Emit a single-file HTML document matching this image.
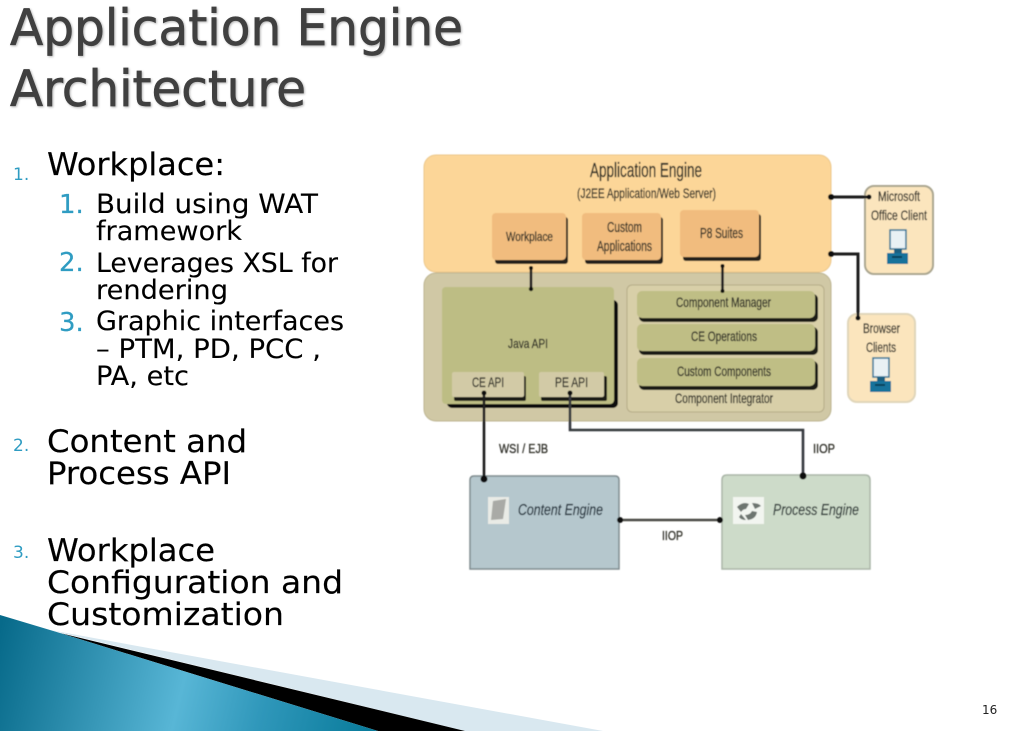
<!DOCTYPE html>
<html><head><meta charset="utf-8"><style>
html,body{margin:0;padding:0;background:#fff;width:1023px;height:731px;overflow:hidden}
svg{display:block}
.h{font-family:"DejaVu Sans",sans-serif}
.d{font-family:"Liberation Sans",sans-serif;fill:#2e2e28;stroke:#2e2e28;stroke-width:.3}
</style></head><body>
<svg width="1023" height="731" viewBox="0 0 1023 731" xmlns="http://www.w3.org/2000/svg">
<defs>
<linearGradient id="t" gradientUnits="userSpaceOnUse" x1="0" y1="630" x2="370" y2="720">
<stop offset="0" stop-color="#076a8a"/><stop offset=".5" stop-color="#58b6d6"/><stop offset=".72" stop-color="#2f97ba"/><stop offset="1" stop-color="#0a7c9c"/>
</linearGradient>
<filter id="b" x="-5%" y="-5%" width="110%" height="110%"><feGaussianBlur stdDeviation="0.6"/></filter>
</defs>

<polygon points="50,630 603,731 465,731" fill="#d9e8f0"/>
<polygon points="60,633 465,731 378,731" fill="#000"/>
<polygon points="0,615 60,633 378,731 0,731" fill="url(#t)"/>

<g class="h" fill="#404040" stroke="#404040" stroke-width=".7" font-size="50" style="filter:drop-shadow(1px 1.5px 1px #b5b5b5)">
<text x="10" y="45" textLength="453" lengthAdjust="spacingAndGlyphs">Application Engine</text>
<text x="10" y="106" textLength="296" lengthAdjust="spacingAndGlyphs">Architecture</text>
</g>

<g class="h" fill="#000" font-size="31" stroke="#000" stroke-width=".15">
<text x="47" y="175" textLength="178" lengthAdjust="spacingAndGlyphs">Workplace:</text>
<text x="47" y="452" textLength="200" lengthAdjust="spacingAndGlyphs">Content and</text>
<text x="47" y="484" textLength="184" lengthAdjust="spacingAndGlyphs">Process API</text>
<text x="47" y="561" textLength="168" lengthAdjust="spacingAndGlyphs">Workplace</text>
<text x="47" y="593" textLength="296" lengthAdjust="spacingAndGlyphs">Configuration and</text>
<text x="47" y="625" textLength="237" lengthAdjust="spacingAndGlyphs">Customization</text>
</g>
<g class="h" fill="#000" font-size="27" stroke="#000" stroke-width=".1">
<text x="96" y="213" textLength="222" lengthAdjust="spacingAndGlyphs">Build using WAT</text>
<text x="96" y="240" textLength="146" lengthAdjust="spacingAndGlyphs">framework</text>
<text x="96" y="272" textLength="242" lengthAdjust="spacingAndGlyphs">Leverages XSL for</text>
<text x="96" y="299" textLength="132" lengthAdjust="spacingAndGlyphs">rendering</text>
<text x="96" y="330" textLength="248" lengthAdjust="spacingAndGlyphs">Graphic interfaces</text>
<text x="96" y="358" textLength="225" lengthAdjust="spacingAndGlyphs">– PTM, PD, PCC ,</text>
<text x="96" y="385" textLength="93" lengthAdjust="spacingAndGlyphs">PA, etc</text>
</g>
<g class="h" fill="#2f9cc2" font-size="26" stroke="#2f9cc2" stroke-width=".2">
<text x="59" y="213">1.</text><text x="59" y="271">2.</text><text x="59" y="331">3.</text>
</g>
<g class="h" fill="#2f9cc2" font-size="17">
<text x="13" y="180">1.</text><text x="13" y="451">2.</text><text x="13" y="558">3.</text>
</g>
<text class="h" x="982" y="714" font-size="12" fill="#222">16</text>

<g filter="url(#b)">
<rect x="424" y="273" width="407" height="148" rx="12" fill="#d0c8a5" stroke="#bdb592"/>
<rect x="424" y="155" width="407" height="117" rx="12" fill="#fcd698" stroke="#ecc88c"/>

<rect x="495" y="217" width="73" height="47" rx="3" fill="#26231e"/>
<rect x="492" y="213" width="74" height="47" rx="4" fill="#f1bc7e"/>
<rect x="585" y="217" width="78" height="47" rx="3" fill="#26231e"/>
<rect x="582" y="213" width="79" height="47" rx="4" fill="#f1bc7e"/>
<rect x="683" y="214" width="78" height="47" rx="3" fill="#26231e"/>
<rect x="680" y="210" width="79" height="47" rx="4" fill="#f1bc7e"/>

<rect x="447" y="300" width="171" height="108" rx="5" fill="#111108"/>
<rect x="442" y="287" width="172" height="117" rx="4" fill="#bdbd84"/>
<rect x="454" y="376" width="72" height="25" rx="2" fill="#1c1c14"/>
<rect x="452" y="372" width="72" height="25" rx="2" fill="#d2caa6"/>
<rect x="541" y="376" width="66" height="25" rx="2" fill="#1c1c14"/>
<rect x="539" y="372" width="65" height="25" rx="2" fill="#d2caa6"/>

<rect x="627" y="285" width="197" height="127" rx="5" fill="#d8cfa8" stroke="#b5ac88"/>
<rect x="639" y="294" width="179" height="28" rx="5" fill="#1c1c14"/>
<rect x="637" y="291" width="178" height="27" rx="5" fill="#bfbe85"/>
<rect x="639" y="327" width="179" height="28" rx="5" fill="#1c1c14"/>
<rect x="637" y="324" width="178" height="27" rx="5" fill="#bfbe85"/>
<rect x="639" y="361" width="179" height="29" rx="5" fill="#1c1c14"/>
<rect x="637" y="358" width="178" height="28" rx="5" fill="#bfbe85"/>

<rect x="865" y="186" width="68" height="88" rx="9" fill="#fbe5bd" stroke="#aaa690" stroke-width="2"/>
<rect x="848" y="314" width="67" height="88" rx="9" fill="#fbe5bd" stroke="#e0d6ba" stroke-width="2"/>

<g>
<rect x="890" y="230" width="16" height="19" fill="#e9f1f4" stroke="#2f7396" stroke-width="1.5"/>
<rect x="894" y="249" width="8" height="4" fill="#1f5f80"/>
<rect x="887" y="253" width="21" height="11" fill="#17729b"/>
<rect x="892" y="256" width="10" height="2" fill="#0d3f58"/>
</g>
<g transform="translate(-17,128)">
<rect x="890" y="230" width="16" height="19" fill="#e9f1f4" stroke="#2f7396" stroke-width="1.5"/>
<rect x="894" y="249" width="8" height="4" fill="#1f5f80"/>
<rect x="887" y="253" width="21" height="11" fill="#17729b"/>
<rect x="892" y="256" width="10" height="2" fill="#0d3f58"/>
</g>

<path d="M470 569V480q0-4 4-4H615q4 0 4 4V569Z" fill="#b5c7cd" stroke="#7f8b8e" stroke-width="1.5"/>
<path d="M722 569V480q0-5 5-5H865q5 0 5 5V569Z" fill="#cddbc9" stroke="#aab6a7" stroke-width="1.5"/>
<rect x="488" y="497" width="21" height="27" fill="#e9ebe6"/>
<polygon points="493,501 506,499 503,519 491,520" fill="#a9aaa6"/>
<rect x="733" y="497" width="31" height="27" fill="#f2f5f0"/>
<path d="M737 507q6-6 12-3l-3 5q-3 0-5 3Zm15-4q7 0 9 3l-6 3Zm5 9q-1 7-9 8l-3-5q5 0 7-4ZM741 514l5 6q-5 0-7-3Z" fill="#6d7470"/>

<g fill="none" stroke="#1f1f1f" stroke-width="2.6">
<path d="M831 197H869" stroke-width="3"/>
<path d="M831 254H858V318" stroke-width="3"/>
<path d="M531 268V289"/>
<path d="M722.5 266V291"/>
<path d="M484 393V478"/>
<path d="M570 393V430H803V475" stroke="#34383c"/>
<path d="M620 520H720" stroke="#4a4a44"/>
</g>
<g fill="#0c0c0c">
<circle cx="831" cy="197" r="3"/><circle cx="869" cy="197" r="2.5"/>
<circle cx="831" cy="254" r="3"/><circle cx="858" cy="318" r="2.5"/>
<circle cx="531" cy="268" r="2"/><circle cx="531" cy="289" r="2.2"/>
<circle cx="722.5" cy="266" r="2"/><circle cx="722.5" cy="291" r="2"/>
<circle cx="484" cy="393" r="2.5"/><circle cx="570" cy="393" r="2.5"/>
<circle cx="484" cy="479" r="3.5"/><circle cx="803" cy="476" r="3.5"/>
<circle cx="620" cy="520" r="3"/><circle cx="720" cy="520" r="3"/>
</g>

<g class="d" font-size="13">
<text x="590" y="177" font-size="20" textLength="112" lengthAdjust="spacingAndGlyphs">Application Engine</text>
<text x="577" y="198" font-size="14" textLength="139" lengthAdjust="spacingAndGlyphs">(J2EE Application/Web Server)</text>
<text x="506" y="241" textLength="47" lengthAdjust="spacingAndGlyphs">Workplace</text>
<text x="607" y="232" font-size="15" textLength="35" lengthAdjust="spacingAndGlyphs">Custom</text>
<text x="597" y="251" font-size="15" textLength="55" lengthAdjust="spacingAndGlyphs">Applications</text>
<text x="700" y="238" font-size="15" textLength="43" lengthAdjust="spacingAndGlyphs">P8 Suites</text>
<text x="878" y="201" font-size="14" textLength="42" lengthAdjust="spacingAndGlyphs">Microsoft</text>
<text x="871" y="220" font-size="14" textLength="56" lengthAdjust="spacingAndGlyphs">Office Client</text>
<text x="863" y="333" font-size="14" textLength="37" lengthAdjust="spacingAndGlyphs">Browser</text>
<text x="866" y="352" font-size="14" textLength="30" lengthAdjust="spacingAndGlyphs">Clients</text>
<text x="508" y="348" textLength="40" lengthAdjust="spacingAndGlyphs">Java API</text>
<text x="472" y="387" font-size="14" textLength="32" lengthAdjust="spacingAndGlyphs">CE API</text>
<text x="555" y="387" font-size="14" textLength="33" lengthAdjust="spacingAndGlyphs">PE API</text>
<text x="676" y="307" font-size="14" textLength="95" lengthAdjust="spacingAndGlyphs">Component Manager</text>
<text x="691" y="341" font-size="14" textLength="66" lengthAdjust="spacingAndGlyphs">CE Operations</text>
<text x="677" y="376" font-size="14" textLength="94" lengthAdjust="spacingAndGlyphs">Custom Components</text>
<text x="675" y="403" font-size="14" textLength="98" lengthAdjust="spacingAndGlyphs">Component Integrator</text>
<text x="499" y="453" textLength="49" lengthAdjust="spacingAndGlyphs">WSI / EJB</text>
<text x="813" y="453" textLength="22" lengthAdjust="spacingAndGlyphs">IIOP</text>
<text x="662" y="540" textLength="21" lengthAdjust="spacingAndGlyphs">IIOP</text>
<text x="518" y="515" font-size="16" font-style="italic" style="fill:#263640;stroke:#263640" textLength="85" lengthAdjust="spacingAndGlyphs">Content Engine</text>
<text x="773" y="515" font-size="16" font-style="italic" style="fill:#333e3c;stroke:#333e3c" textLength="86" lengthAdjust="spacingAndGlyphs">Process Engine</text>
</g>
</g>
</svg>
</body></html>
